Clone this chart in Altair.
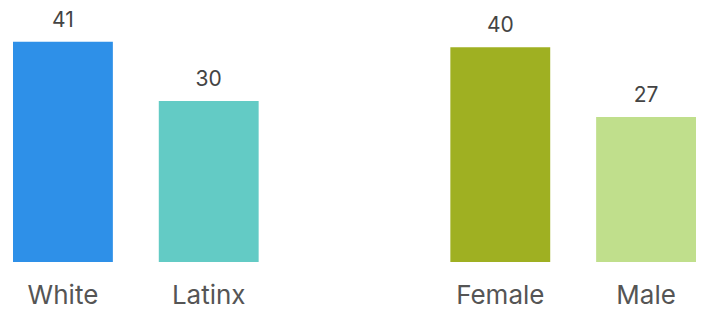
import altair as alt
import pandas as pd

categories = ["White", "Latinx", "Female", "Male"]
values = [41, 30, 40, 27]
colors = ["#2e90e8", "#63cbc5", "#9fb022", "#c0df8c"]
spacer = " "
x_domain = ["White", "Latinx", spacer, "Female", "Male"]

df = pd.DataFrame({"category": categories, "value": values, "color": colors})

x = alt.X(
    "category:N",
    scale=alt.Scale(domain=x_domain, paddingInner=0.315, paddingOuter=0),
    axis=alt.Axis(
        title=None, ticks=False, domain=False, labelAngle=0, labelFontSize=26,
        labelColor="#555555", labelPadding=20, labelFont="Inter", grid=False,
    ),
)
y = alt.Y("value:Q", scale=alt.Scale(domain=[0, 47.3], nice=False, zero=True), axis=None)

bars = alt.Chart(df).mark_bar().encode(x=x, y=y, color=alt.Color("color:N", scale=None))
text = alt.Chart(df).mark_text(
    dy=-11, baseline="bottom", fontSize=21, color="#444444", font="Inter"
).encode(x=x, y=y, text="value:Q")

chart = (bars + text).properties(
    width=683,
    height=254,
    padding={"left": 5, "top": 0, "right": 0, "bottom": 46},
    autosize=alt.AutoSizeParams(type="none"),
).configure_view(stroke=None)
chart.save("out.html", embed_options={"renderer": "svg", "actions": False})
